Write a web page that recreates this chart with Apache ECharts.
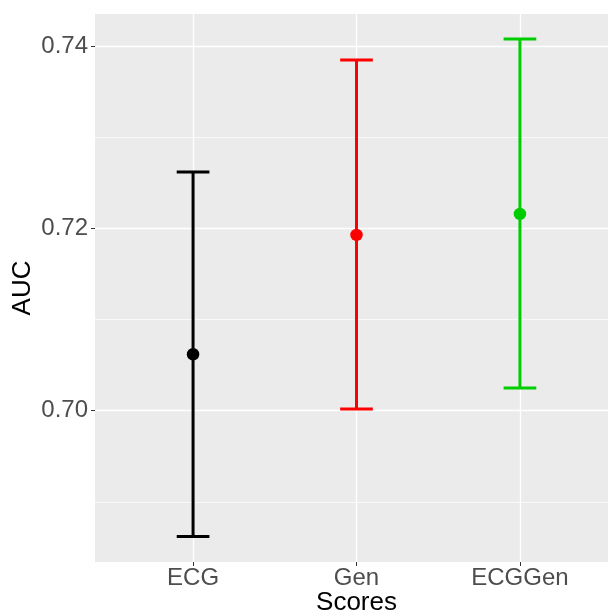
<!DOCTYPE html>
<html>
<head>
<meta charset="utf-8">
<script src="https://cdn.jsdelivr.net/npm/echarts@6/dist/echarts.min.js"></script>
<style>html,body{margin:0;padding:0;background:#fff}#c{width:608px;height:616px}</style>
</head>
<body>
<div id="c"></div>
<script>
var categories = ['ECG', 'Gen', 'ECGGen'];
var means = [0.7062, 0.7193, 0.7216];
var lower = [0.6862, 0.7002, 0.7025];
var upper = [0.7262, 0.7385, 0.7408];
var colors = ['#000000', '#FF0000', '#00CD00'];
var yMajorTicks = [0.70, 0.72, 0.74];
var yMinorTicks = [0.69, 0.71, 0.73];

var positions = categories.map(function (c, i) { return i + 1; });
var font = 'Liberation Sans, Arial, Helvetica, sans-serif';

var errData = categories.map(function (c, i) {
  return [positions[i], lower[i], upper[i], i];
});
var ptData = categories.map(function (c, i) {
  return { value: [positions[i], means[i]], itemStyle: { color: colors[i], opacity: 1 } };
});

var chart = echarts.init(document.getElementById('c'), null, { renderer: 'canvas' });
chart.setOption({
  backgroundColor: '#ffffff',
  animation: false,
  grid: {
    left: 95, right: -10, top: 14, bottom: 54,
    containLabel: false, outerBoundsMode: 'none',
    show: true, backgroundColor: '#EBEBEB', borderWidth: 0
  },
  xAxis: {
    type: 'value', min: 0.4, max: 3.6,
    name: 'Scores', nameLocation: 'middle', nameGap: 28, nameMoveOverlap: false,
    nameTextStyle: { fontSize: 26, color: '#000000', fontFamily: font },
    axisLine: { show: false },
    axisTick: { show: true, customValues: positions, length: 4, lineStyle: { color: '#333333', width: 1 } },
    axisLabel: {
      customValues: positions, margin: 4, fontSize: 24, color: '#4D4D4D', fontFamily: font,
      formatter: function (v) { return categories[Math.round(v) - 1] || ''; }
    },
    splitLine: { show: true, lineStyle: { color: '#FFFFFF', width: 1.3 } }
  },
  yAxis: [{
    type: 'value', min: 0.68339, max: 0.74355,
    name: 'AUC', nameLocation: 'middle', nameGap: 59, nameRotate: 90, nameMoveOverlap: false,
    nameTextStyle: { fontSize: 26, color: '#000000', fontFamily: font },
    axisLine: { show: false },
    axisTick: { show: true, customValues: yMajorTicks, length: 4, lineStyle: { color: '#333333', width: 1 } },
    axisLabel: {
      customValues: yMajorTicks, margin: 7, fontSize: 24, color: '#4D4D4D', fontFamily: font,
      formatter: function (v) { return v.toFixed(2); }
    },
    splitLine: { show: true, lineStyle: { color: '#FFFFFF', width: 1.3 } }
  }, {
    type: 'value', min: 0.68339, max: 0.74355, position: 'left',
    axisLine: { show: false },
    axisTick: { show: false, customValues: yMinorTicks },
    axisLabel: { show: false, customValues: yMinorTicks },
    splitLine: { show: true, lineStyle: { color: '#FFFFFF', width: 0.7 } }
  }],
  series: [{
    type: 'custom',
    data: errData,
    encode: { x: 0, y: [1, 2] },
    renderItem: function (params, api) {
      var x = api.value(0), lo = api.value(1), hi = api.value(2);
      var col = colors[api.value(3)];
      var pLo = api.coord([x, lo]), pHi = api.coord([x, hi]);
      var l = api.coord([x - 0.1, lo])[0], r = api.coord([x + 0.1, lo])[0];
      var st = { stroke: col, lineWidth: 3 };
      return {
        type: 'group',
        children: [
          { type: 'line', shape: { x1: pLo[0], y1: pLo[1], x2: pHi[0], y2: pHi[1] }, style: st },
          { type: 'line', shape: { x1: l, y1: pHi[1], x2: r, y2: pHi[1] }, style: st },
          { type: 'line', shape: { x1: l, y1: pLo[1], x2: r, y2: pLo[1] }, style: st }
        ]
      };
    },
    z: 2
  }, {
    type: 'scatter',
    data: ptData,
    symbol: 'circle',
    symbolSize: 12.5,
    itemStyle: { opacity: 1 },
    z: 3
  }]
});
</script>
</body>
</html>
